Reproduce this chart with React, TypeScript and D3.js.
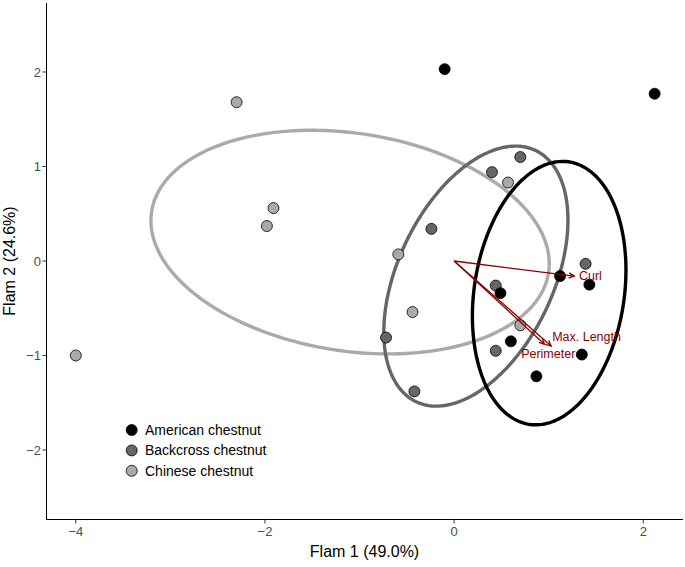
import React from "react";
import * as d3 from "d3";

const groups = ["American chestnut", "Backcross chestnut", "Chinese chestnut"];
const groupFill = ["#000000", "#666666", "#aaaaaa"];

const americanX = [-0.1, 2.12, 1.12, 1.43, 0.49, 0.6, 1.35, 0.87];
const americanY = [2.03, 1.77, -0.16, -0.25, -0.34, -0.85, -0.99, -1.22];
const backcrossX = [0.7, 0.4, -0.24, 1.39, 0.44, -0.72, 0.44, -0.42];
const backcrossY = [1.1, 0.94, 0.34, -0.03, -0.26, -0.81, -0.95, -1.38];
const chineseX = [-4.0, -2.3, -1.91, -1.98, -0.59, -0.44, 0.57, 0.7];
const chineseY = [-1.0, 1.68, 0.56, 0.37, 0.07, -0.54, 0.83, -0.68];

// ellipse centre and shape (covariance-like) per group
const ellipseCx = [1.005, 0.23, -1.1];
const ellipseCy = [-0.34, -0.16, 0.2];
const ellipseSxx = [0.659, 0.948, 4.434];
const ellipseSyy = [1.942, 1.893, 1.4];
const ellipseSxy = [0.198, 0.577, -0.479];

const varNames = ["Curl", "Max. Length", "Perimeter"];
const varX = [1.27, 1.026, 0.955];
const varY = [-0.16, -0.9, -0.88];
const labelX = [1.32, 1.4, 0.995];
const labelY = [-0.16, -0.8, -0.98];
const labelAnchor = ["start", "middle", "middle"];

const xTicks = [-4, -2, 0, 2];
const yTicks = [-2, -1, 0, 1, 2];

const W = 685;
const H = 567;
const FONT = "'Liberation Sans', Arial, Helvetica, sans-serif";

export default function App() {
  const x = d3.scaleLinear().domain([-4.31, 2.42]).range([46.5, 683]);
  const y = d3.scaleLinear().domain([-2.73, 2.73]).range([519, 3]);

  const seriesX = [americanX, backcrossX, chineseX];
  const seriesY = [americanY, backcrossY, chineseY];

  const line = d3
    .line<[number, number]>()
    .x((d) => x(d[0]))
    .y((d) => y(d[1]))
    .curve(d3.curveLinearClosed);

  const ellipses = groups.map((_, i) => {
    const a = Math.sqrt(ellipseSxx[i]);
    const b = ellipseSxy[i] / a;
    const c = Math.sqrt(ellipseSyy[i] - b * b);
    const pts: [number, number][] = d3.range(0, 200).map((k) => {
      const t = (k / 200) * 2 * Math.PI;
      return [ellipseCx[i] + a * Math.cos(t), ellipseCy[i] + b * Math.cos(t) + c * Math.sin(t)];
    });
    return line(pts) as string;
  });

  const arrowHead = (x0: number, y0: number, x1: number, y1: number) => {
    const ang = Math.atan2(y1 - y0, x1 - x0);
    const len = 6;
    const spread = Math.PI / 7;
    const p1 = [x1 - len * Math.cos(ang - spread), y1 - len * Math.sin(ang - spread)];
    const p2 = [x1 - len * Math.cos(ang + spread), y1 - len * Math.sin(ang + spread)];
    return `M${p1[0]},${p1[1]}L${x1},${y1}L${p2[0]},${p2[1]}`;
  };

  const order = [2, 1, 0];

  return (
    <svg
      width={W}
      height={H}
      style={{ position: "absolute", left: 0, top: 0, display: "block", background: "#fff" }}
      fontFamily={FONT}
    >
      <rect x={0} y={0} width={W} height={H} fill="#fff" />
      {/* ellipses */}
      {order.map((i) => (
        <path key={"e" + i} d={ellipses[i]} fill="none" stroke={groupFill[i]} strokeWidth={3.4} />
      ))}
      {/* points */}
      {order.map((i) =>
        seriesX[i].map((vx, j) => (
          <circle
            key={`p${i}-${j}`}
            cx={x(vx)}
            cy={y(seriesY[i][j])}
            r={5.5}
            fill={groupFill[i]}
            stroke="#000"
            strokeWidth={0.8}
          />
        ))
      )}
      {/* arrows */}
      {varNames.map((n, i) => (
        <g key={"a" + i} stroke="#8b0000" strokeWidth={1.3} fill="none">
          <line x1={x(0)} y1={y(0)} x2={x(varX[i])} y2={y(varY[i])} />
          <path d={arrowHead(x(0), y(0), x(varX[i]), y(varY[i]))} />
        </g>
      ))}
      {varNames.map((n, i) => (
        <text
          key={"l" + i}
          x={x(labelX[i])}
          y={y(labelY[i])}
          dy="0.35em"
          textAnchor={labelAnchor[i] as any}
          fontSize={12.5}
          fill="#8b0000"
        >
          {n}
        </text>
      ))}
      {/* axes */}
      <line x1={46.5} x2={46.5} y1={3} y2={519.5} stroke="#000" strokeWidth={1} />
      <line x1={46} x2={683} y1={519.5} y2={519.5} stroke="#000" strokeWidth={1} />
      {xTicks.map((t) => (
        <g key={"xt" + t}>
          <line x1={x(t)} x2={x(t)} y1={519.5} y2={523.5} stroke="#333" strokeWidth={1} />
          <text x={x(t)} y={535.5} textAnchor="middle" fontSize={13} fill="#4d4d4d">
            {t < 0 ? "\u2212" + Math.abs(t) : String(t)}
          </text>
        </g>
      ))}
      {yTicks.map((t) => (
        <g key={"yt" + t}>
          <line x1={42.5} x2={46.5} y1={y(t)} y2={y(t)} stroke="#333" strokeWidth={1} />
          <text x={41} y={y(t)} dy="0.35em" textAnchor="end" fontSize={13} fill="#4d4d4d">
            {t < 0 ? "\u2212" + Math.abs(t) : String(t)}
          </text>
        </g>
      ))}
      <text x={364.5} y={557} textAnchor="middle" fontSize={16} fill="#000">
        Flam 1 (49.0%)
      </text>
      <text
        transform={`translate(15,261) rotate(-90)`}
        textAnchor="middle"
        fontSize={16}
        fill="#000"
      >
        Flam 2 (24.6%)
      </text>
      {/* legend */}
      {groups.map((g, i) => (
        <g key={"lg" + i}>
          <circle cx={131.7} cy={430 + i * 20.4} r={5.5} fill={groupFill[i]} stroke="#000" strokeWidth={0.8} />
          <text x={145} y={430 + i * 20.4} dy="0.35em" fontSize={14} fill="#000">
            {g}
          </text>
        </g>
      ))}
    </svg>
  );
}
